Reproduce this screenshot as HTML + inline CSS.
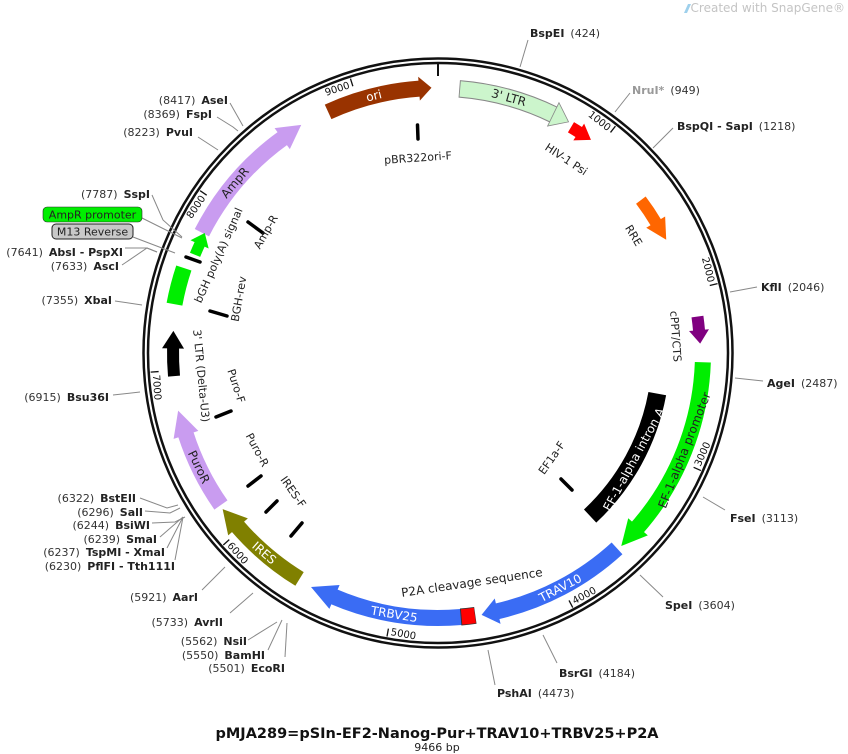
<!DOCTYPE html>
<html><head><meta charset="utf-8"><style>
html,body{margin:0;padding:0;background:#fff}
svg{display:block}
text{font-family:"DejaVu Sans","Liberation Sans",sans-serif}
.l{font-size:11px;fill:#222}
.b{font-weight:bold}
.n{fill:#333}
.ft{font-size:12px}
.tk{font-size:10px;fill:#111}
</style></head><body>
<svg width="848" height="754" viewBox="0 0 848 754" xmlns="http://www.w3.org/2000/svg">
<text x="845" y="12" text-anchor="end" font-size="12" fill="#c4c4c4">Created with SnapGene®</text>
<path d="M684,13 l4,-9 l3,0 l-4,9z" fill="#9ed0ec"/>

<!-- ring -->
<circle cx="438" cy="353" r="292.25" fill="none" stroke="#111" stroke-width="7"/>
<circle cx="438" cy="353" r="292.25" fill="none" stroke="#fff" stroke-width="2"/>
<line x1="438" y1="63" x2="438" y2="76" stroke="#111" stroke-width="2"/>

<!-- ticks -->
<g stroke="#111" stroke-width="1.3">
<line transform="rotate(38.03 438 353)" x1="438" y1="65" x2="438" y2="73"/>
<line transform="rotate(76.06 438 353)" x1="438" y1="65" x2="438" y2="73"/>
<line transform="rotate(-65.91 438 353)" x1="438" y1="633" x2="438" y2="641"/>
<line transform="rotate(-27.9 438 353)" x1="438" y1="633" x2="438" y2="641"/>
<line transform="rotate(10.2 438 353)" x1="438" y1="633" x2="438" y2="641"/>
<line transform="rotate(48.2 438 353)" x1="438" y1="633" x2="438" y2="641"/>
<line transform="rotate(86.2 438 353)" x1="438" y1="633" x2="438" y2="641"/>
<line transform="rotate(304.3 438 353)" x1="438" y1="65" x2="438" y2="73"/>
<line transform="rotate(342.3 438 353)" x1="438" y1="65" x2="438" y2="73"/>
</g>
<g class="tk">
<text transform="rotate(38.03 438 353)" x="435" y="74" text-anchor="end">1000</text>
<text transform="rotate(76.06 438 353)" x="435" y="74" text-anchor="end">2000</text>
<text transform="rotate(-65.91 438 353)" x="441" y="639">3000</text>
<text transform="rotate(-27.9 438 353)" x="441" y="639">4000</text>
<text transform="rotate(10.2 438 353)" x="441" y="639">5000</text>
<text transform="rotate(48.2 438 353)" x="441" y="639">6000</text>
<text transform="rotate(86.2 438 353)" x="441" y="639">7000</text>
<text transform="rotate(304.3 438 353)" x="435" y="74" text-anchor="end">8000</text>
<text transform="rotate(342.3 438 353)" x="435" y="74" text-anchor="end">9000</text>
</g>

<!-- features -->
<g fill="none">
<circle cx="438" cy="353" r="265" stroke="#993300" stroke-width="16" pathLength="360" stroke-dasharray="20.5 999" transform="rotate(-114.5 438 353)"/>
<circle cx="438" cy="353" r="265" stroke="#888" stroke-width="17.5" pathLength="360" stroke-dasharray="21.6 999" transform="rotate(-85.4 438 353)"/>
<circle cx="438" cy="353" r="265" stroke="#ccf5cc" stroke-width="15.5" pathLength="360" stroke-dasharray="21.4 999" transform="rotate(-85.2 438 353)"/>
<circle cx="438" cy="353" r="262" stroke="#ff0000" stroke-width="12" pathLength="360" stroke-dasharray="2.3 999" transform="rotate(-59.5 438 353)"/>
<circle cx="438" cy="353" r="254" stroke="#ff6600" stroke-width="12" pathLength="360" stroke-dasharray="6.2 999" transform="rotate(-37 438 353)"/>
<circle cx="438" cy="353" r="262" stroke="#800080" stroke-width="12" pathLength="360" stroke-dasharray="3.2 999" transform="rotate(-8 438 353)"/>
<circle cx="438" cy="353" r="265" stroke="#00ee00" stroke-width="16" pathLength="360" stroke-dasharray="39.2 999" transform="rotate(2 438 353)"/>
<circle cx="438" cy="353" r="223" stroke="#000" stroke-width="18" pathLength="360" stroke-dasharray="36.5 999" transform="rotate(10.5 438 353)"/>
<circle cx="438" cy="353" r="265" stroke="#3a6cf4" stroke-width="16" pathLength="360" stroke-dasharray="29.7 999" transform="rotate(47.5 438 353)"/>
<circle cx="438" cy="353" r="265" stroke="#3a6cf4" stroke-width="16" pathLength="360" stroke-dasharray="28.2 999" transform="rotate(85 438 353)"/>
<circle cx="438" cy="353" r="265" stroke="#333" stroke-width="17" pathLength="360" stroke-dasharray="3.2 999" transform="rotate(81.9 438 353)"/>
<circle cx="438" cy="353" r="265" stroke="#ff0000" stroke-width="15.5" pathLength="360" stroke-dasharray="2.9 999" transform="rotate(82 438 353)"/>
<circle cx="438" cy="353" r="265" stroke="#808000" stroke-width="16" pathLength="360" stroke-dasharray="17.7 999" transform="rotate(121.5 438 353)"/>
<circle cx="438" cy="353" r="265" stroke="#c99cf0" stroke-width="16" pathLength="360" stroke-dasharray="17.2 999" transform="rotate(145 438 353)"/>
<circle cx="438" cy="353" r="265" stroke="#000" stroke-width="12" pathLength="360" stroke-dasharray="6.2 999" transform="rotate(175 438 353)"/>
<circle cx="438" cy="353" r="268" stroke="#00ee00" stroke-width="16" pathLength="360" stroke-dasharray="8 999" transform="rotate(190.5 438 353)"/>
<circle cx="438" cy="353" r="262" stroke="#00ee00" stroke-width="11" pathLength="360" stroke-dasharray="2.7 999" transform="rotate(202 438 353)"/>
<circle cx="438" cy="353" r="265" stroke="#c99cf0" stroke-width="16" pathLength="360" stroke-dasharray="27.2 999" transform="rotate(207 438 353)"/>
</g>
<polygon transform="rotate(-4 438 353)" points="437.5,76 437.5,100 450,88" fill="#993300"/>
<polygon transform="rotate(26 438 353)" points="437,75 437,101 454,88" fill="#ccf5cc" stroke="#888" stroke-width="0.8"/>
<polygon transform="rotate(32.6 438 353)" points="437.5,81 437.5,101 452,91" fill="#ff0000"/>
<polygon transform="rotate(59.1 438 353)" points="437.5,88 437.5,110 458,99" fill="#ff6600"/>
<polygon transform="rotate(85.1 438 353)" points="437.5,81 437.5,101 451,91" fill="#800080"/>
<polygon transform="rotate(131.1 438 353)" points="437.5,75 437.5,101 463,88" fill="#00ee00"/>
<polygon transform="rotate(167.1 438 353)" points="437.5,75 437.5,101 454,88" fill="#3a6cf4"/>
<polygon transform="rotate(203.1 438 353)" points="437.5,75 437.5,101 463,88" fill="#3a6cf4"/>
<polygon transform="rotate(229.1 438 353)" points="437.5,75 437.5,101 461,88" fill="#808000"/>
<polygon transform="rotate(252.1 438 353)" points="437.5,75 437.5,101 463,88" fill="#c99cf0"/>
<polygon transform="rotate(271.1 438 353)" points="437.5,77 437.5,99 455,88" fill="#000"/>
<polygon transform="rotate(294.6 438 353)" points="437.5,81 437.5,101 450,91" fill="#00ee00"/>
<polygon transform="rotate(324.1 438 353)" points="437.5,75 437.5,101 461,88" fill="#c99cf0"/>

<g class="ft" text-anchor="middle" dominant-baseline="central">
<text transform="rotate(-14 438 353)" x="438" y="88" fill="#fff">ori</text>
<text transform="rotate(15.5 438 353)" x="438" y="88" fill="#222">3' LTR</text>
<text transform="rotate(33.5 438 353)" x="438" y="121" fill="#222" font-size="11">HIV-1 Psi</text>
<text transform="rotate(59 438 353)" x="438" y="125" fill="#222" font-size="11">RRE</text>
<text transform="rotate(86 438 353)" x="438" y="115" fill="#222" font-size="11">cPPT/CTS</text>
<text transform="rotate(-68.5 438 353)" x="438" y="618" fill="#222">EF-1-alpha promoter</text>
<text transform="rotate(-61.5 438 353)" x="438" y="576" fill="#fff">EF-1-alpha intron A</text>
<text transform="rotate(-27.5 438 353)" x="438" y="618" fill="#fff">TRAV10</text>
<text transform="rotate(-8.4 438 353)" x="438" y="585" fill="#222">P2A cleavage sequence</text>
<text transform="rotate(9.5 438 353)" x="438" y="618" fill="#fff">TRBV25</text>
<text transform="rotate(41 438 353)" x="438" y="618" fill="#fff">IRES</text>
<text transform="rotate(64.5 438 353)" x="438" y="618" fill="#222">PuroR</text>
<text transform="rotate(84.5 438 353)" x="438" y="591" fill="#222" font-size="11">3' LTR (Delta-U3)</text>
<text transform="rotate(294 438 353)" x="438" y="113" fill="#222" font-size="11">bGH poly(A) signal</text>
<text transform="rotate(310 438 353)" x="438" y="88" fill="#222">AmpR</text>
</g>

<g stroke="#000" stroke-width="3.5" stroke-linecap="round">
<line x1="417.5" y1="125" x2="418" y2="139"/>
<line x1="248" y1="222" x2="263" y2="233"/>
<line x1="210" y1="311" x2="227" y2="316"/>
<line x1="216" y1="417" x2="231" y2="411"/>
<line x1="248" y1="486" x2="261" y2="476"/>
<line x1="266" y1="512" x2="277" y2="501"/>
<line x1="291" y1="536" x2="302" y2="523"/>
<line x1="561" y1="479" x2="572" y2="490"/>
<line x1="186" y1="257" x2="200" y2="262"/>
</g>
<g font-size="11" fill="#222" text-anchor="middle" dominant-baseline="central">
<text transform="rotate(-4 418 158)" x="418" y="158">pBR322ori-F</text>
<text transform="rotate(-60 266 232)" x="266" y="232">Amp-R</text>
<text transform="rotate(-80 239 299)" x="239" y="299">BGH-rev</text>
<text transform="rotate(72 236 386)" x="236" y="386">Puro-F</text>
<text transform="rotate(62 257 450)" x="257" y="450">Puro-R</text>
<text transform="rotate(55 293 492)" x="293" y="492">IRES-F</text>
<text transform="rotate(-55 552 458)" x="552" y="458">EF1a-F</text>
</g>

<g stroke="#888" stroke-width="1" fill="none">
<polyline points="520,67 528,40"/>
<polyline points="615,112 630,93"/>
<polyline points="653,148 673,128"/>
<polyline points="730,292 757,287"/>
<polyline points="735,378 763,381"/>
<polyline points="703,497 725,510"/>
<polyline points="640,575 663,597"/>
<polyline points="543,635 557,663"/>
<polyline points="488,650 495,685"/>
<polyline points="287,623 285,657"/>
<polyline points="282,620 268,650"/>
<polyline points="277,622 248,640"/>
<polyline points="253,593 245,600 230,613"/>
<polyline points="225,567 202,590"/>
<polyline points="178,505 167,508 140,498"/>
<polyline points="180,508 170,513 145,511"/>
<polyline points="185,517 175,522 152,523"/>
<polyline points="183,517 160,537"/>
<polyline points="183,517 167,548"/>
<polyline points="183,517 175,560"/>
<polyline points="140,392 113,395"/>
<polyline points="142,305 115,301"/>
<polyline points="157,252 147,248 125,248"/>
<polyline points="157,252 147,248 122,265"/>
<polyline points="175,253 133,237"/>
<polyline points="182,238 142,218"/>
<polyline points="182,237 163,220 152,195"/>
<polyline points="218,150 198,137"/>
<polyline points="238,131 233,127 217,117"/>
<polyline points="243,126 230,103"/>
</g>

<g class="l">
<text x="530" y="37"><tspan class="b">BspEI</tspan><tspan class="n" dx="6">(424)</tspan></text>
<text x="632" y="94"><tspan class="b" fill="#999">NruI*</tspan><tspan class="n" dx="6">(949)</tspan></text>
<text x="677" y="130"><tspan class="b">BspQI - SapI</tspan><tspan class="n" dx="6">(1218)</tspan></text>
<text x="761" y="291"><tspan class="b">KflI</tspan><tspan class="n" dx="6">(2046)</tspan></text>
<text x="767" y="387"><tspan class="b">AgeI</tspan><tspan class="n" dx="6">(2487)</tspan></text>
<text x="730" y="522"><tspan class="b">FseI</tspan><tspan class="n" dx="6">(3113)</tspan></text>
<text x="665" y="609"><tspan class="b">SpeI</tspan><tspan class="n" dx="6">(3604)</tspan></text>
<text x="559" y="677"><tspan class="b">BsrGI</tspan><tspan class="n" dx="6">(4184)</tspan></text>
<text x="497" y="697"><tspan class="b">PshAI</tspan><tspan class="n" dx="6">(4473)</tspan></text>
</g>
<g class="l" text-anchor="end">
<text x="228" y="104"><tspan class="n">(8417)</tspan><tspan class="b" dx="6">AseI</tspan></text>
<text x="212" y="118"><tspan class="n">(8369)</tspan><tspan class="b" dx="6">FspI</tspan></text>
<text x="193" y="136"><tspan class="n">(8223)</tspan><tspan class="b" dx="6">PvuI</tspan></text>
<text x="150" y="198"><tspan class="n">(7787)</tspan><tspan class="b" dx="6">SspI</tspan></text>
<text x="123" y="256"><tspan class="n">(7641)</tspan><tspan class="b" dx="6">AbsI - PspXI</tspan></text>
<text x="119" y="270"><tspan class="n">(7633)</tspan><tspan class="b" dx="6">AscI</tspan></text>
<text x="112" y="304"><tspan class="n">(7355)</tspan><tspan class="b" dx="6">XbaI</tspan></text>
<text x="109" y="401"><tspan class="n">(6915)</tspan><tspan class="b" dx="6">Bsu36I</tspan></text>
<text x="136" y="502"><tspan class="n">(6322)</tspan><tspan class="b" dx="6">BstEII</tspan></text>
<text x="143" y="516"><tspan class="n">(6296)</tspan><tspan class="b" dx="6">SalI</tspan></text>
<text x="150" y="529"><tspan class="n">(6244)</tspan><tspan class="b" dx="6">BsiWI</tspan></text>
<text x="157" y="543"><tspan class="n">(6239)</tspan><tspan class="b" dx="6">SmaI</tspan></text>
<text x="165" y="556"><tspan class="n">(6237)</tspan><tspan class="b" dx="6">TspMI - XmaI</tspan></text>
<text x="175" y="570"><tspan class="n">(6230)</tspan><tspan class="b" dx="6">PflFI - Tth111I</tspan></text>
<text x="198" y="601"><tspan class="n">(5921)</tspan><tspan class="b" dx="6">AarI</tspan></text>
<text x="223" y="626"><tspan class="n">(5733)</tspan><tspan class="b" dx="6">AvrII</tspan></text>
<text x="247" y="645"><tspan class="n">(5562)</tspan><tspan class="b" dx="6">NsiI</tspan></text>
<text x="265" y="659"><tspan class="n">(5550)</tspan><tspan class="b" dx="6">BamHI</tspan></text>
<text x="285" y="672"><tspan class="n">(5501)</tspan><tspan class="b" dx="6">EcoRI</tspan></text>
</g>
<rect x="43" y="207" width="99" height="15" rx="4" fill="#00ee00" stroke="#2a2a2a" stroke-width="0.6"/>
<text x="92.5" y="218.5" class="l" text-anchor="middle" fill="#111">AmpR promoter</text>
<rect x="52" y="224" width="81" height="15" rx="4" fill="#c8c8c8" stroke="#222" stroke-width="1"/>
<text x="92.5" y="235.5" class="l" text-anchor="middle" fill="#111">M13 Reverse</text>

<text x="437" y="738" text-anchor="middle" font-size="14.5" font-weight="bold" fill="#111">pMJA289=pSIn-EF2-Nanog-Pur+TRAV10+TRBV25+P2A</text>
<text x="437" y="751" text-anchor="middle" font-size="11" fill="#222">9466 bp</text>
</svg>
</body></html>
